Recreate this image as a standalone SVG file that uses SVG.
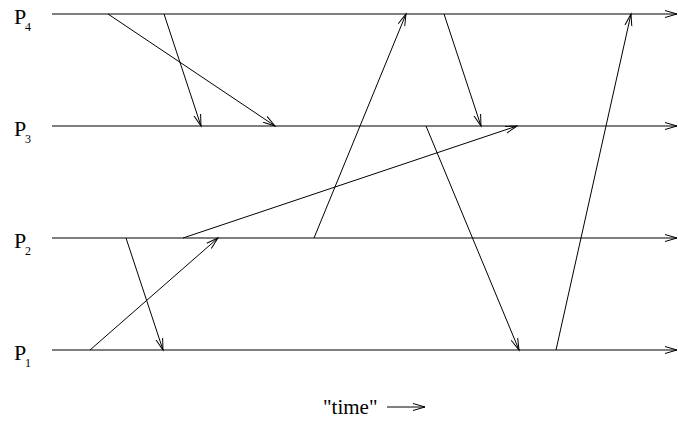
<svg xmlns="http://www.w3.org/2000/svg" width="678" height="422" viewBox="0 0 678 422">
<style>
.ln{stroke:#000;stroke-width:1.2;fill:none}
.msg{stroke:#000;stroke-width:1;fill:none;marker-end:url(#ah)}
.tl{stroke:#000;stroke-width:1.2;fill:none;marker-end:url(#ah)}
.lbl{font-family:"Liberation Serif",serif;font-size:22px;fill:#000}
.sub{font-family:"Liberation Serif",serif;font-size:12px;fill:#000}
.tm{font-family:"Liberation Serif",serif;font-size:21px;fill:#000}
</style>
<defs>
<marker id="ah" markerUnits="userSpaceOnUse" markerWidth="14" markerHeight="10" refX="12" refY="5" orient="auto" viewBox="0 0 14 10">
<path d="M0,1.5 L12,5 L0,8.5" fill="none" stroke="#000" stroke-width="1"/>
</marker>
</defs>
<g id="P4"><line class="tl" x1="52" y1="14" x2="677" y2="14"/><text class="lbl" x="14" y="24">P</text><text class="sub" x="25" y="31">4</text></g>
<g id="P3"><line class="tl" x1="52" y1="126" x2="677" y2="126"/><text class="lbl" x="14" y="136">P</text><text class="sub" x="25" y="143">3</text></g>
<g id="P2"><line class="tl" x1="52" y1="238" x2="677" y2="238"/><text class="lbl" x="14" y="248">P</text><text class="sub" x="25" y="255">2</text></g>
<g id="P1"><line class="tl" x1="52" y1="350" x2="677" y2="350"/><text class="lbl" x="14" y="360">P</text><text class="sub" x="25" y="367">1</text></g>
<g id="connectors">
<line class="msg" x1="108" y1="14" x2="275" y2="126"/>
<line class="msg" x1="164" y1="14" x2="201" y2="126"/>
<line class="msg" x1="314" y1="238" x2="406" y2="14"/>
<line class="msg" x1="444" y1="14" x2="481" y2="126"/>
<line class="msg" x1="183" y1="238" x2="517" y2="126"/>
<line class="msg" x1="426" y1="126" x2="519" y2="350"/>
<line class="msg" x1="556" y1="350" x2="631" y2="14"/>
<line class="msg" x1="126" y1="238" x2="163" y2="350"/>
<line class="msg" x1="90" y1="350" x2="218" y2="238"/>
</g>
<g id="time">
<text class="tm" x="323" y="414">"time"</text>
<line class="msg" x1="387" y1="407" x2="425" y2="407"/>
</g>
</svg>
